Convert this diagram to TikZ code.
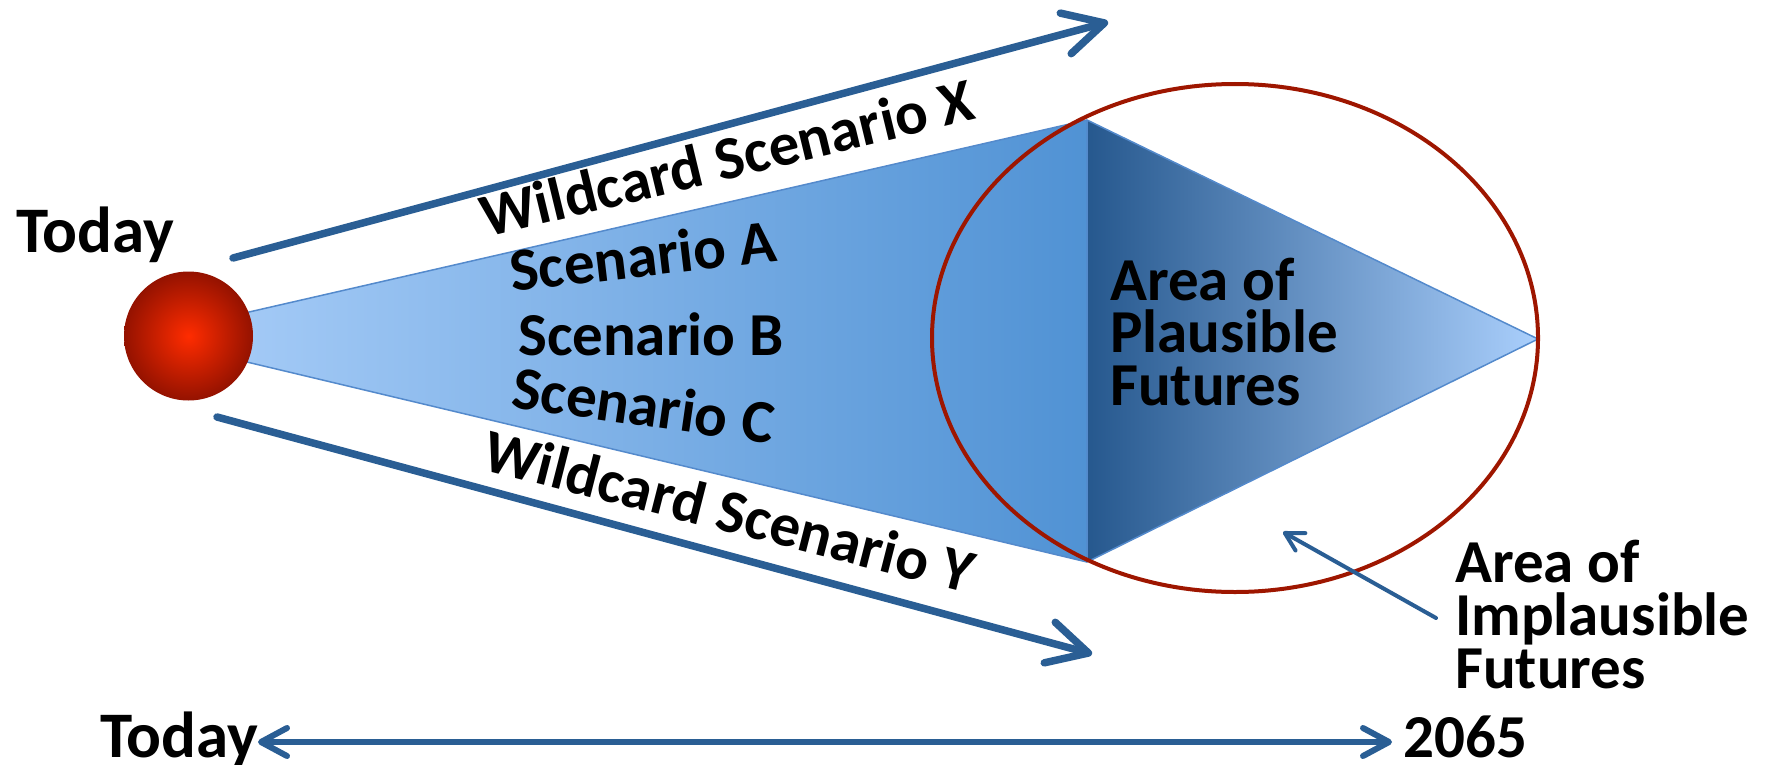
\documentclass[tikz,border=0pt]{standalone}
\usepackage{fontspec}
\setmainfont{Carlito}
\usetikzlibrary{arrows.meta,shapes.geometric}
\definecolor{lineblue}{RGB}{42,94,148}
\definecolor{conel}{RGB}{168,205,248}
\definecolor{coner}{RGB}{80,146,212}
\definecolor{trid}{RGB}{38,88,142}
\definecolor{tril}{RGB}{170,207,252}
\definecolor{edgeblue}{RGB}{84,138,204}
\definecolor{ellred}{RGB}{158,22,0}
\definecolor{ballin}{RGB}{255,44,0}
\definecolor{ballout}{RGB}{148,18,0}
\begin{document}
\begin{tikzpicture}[x=1pt,y=-1pt,
  lbl/.style={font=\fontsize{61}{52}\selectfont\bfseries, inner sep=0pt, anchor=base west},
  bigtext/.style={lbl, font=\fontsize{65}{56}\selectfont\bfseries},
  bigarrow/.style={draw=lineblue, line width=7.5pt, line cap=round,
    -{Straight Barb[length=40pt,width=42pt,round]}},
  smallarrow/.style={draw=lineblue, line width=4pt, line cap=round,
    -{Straight Barb[length=18pt,width=20pt,round]}},
  timearrow/.style={draw=lineblue, line width=6pt,
    {Straight Barb[length=26pt,width=28pt,round]}-{Straight Barb[length=26pt,width=28pt,round]}},
  edgeline/.style={draw=edgeblue, line width=1.5pt, line join=round}
]
\useasboundingbox (0,0) rectangle (1771,765);

% cone and triangle corner points
\coordinate (coneTL) at (188,326);
\coordinate (coneBL) at (188,348);
\coordinate (apexT) at (1087,120);
\coordinate (apexB) at (1087,562);
\coordinate (tip) at (1538,339);

\fill[left color=conel, right color=coner] (coneTL) -- (apexT) -- (apexB) -- (coneBL) -- cycle;
\draw[edgeline] (coneTL) -- (apexT);
\draw[edgeline] (coneBL) -- (apexB);
\fill[left color=trid, right color=tril] (apexT) -- (tip) -- (apexB) -- cycle;
\draw[edgeline] (apexT) -- (tip) -- (apexB) -- cycle;

% ellipse of plausible futures
\node (ell) [draw=ellred, line width=4pt, ellipse, inner sep=0pt,
  minimum width=606pt, minimum height=508pt] at (1235,338) {};

% today ball
\node (ball) [circle, inner sep=0pt, minimum size=129pt, shading=radial,
  inner color=ballin, outer color=ballout] at (188.5,336) {};

% wildcard arrows
\coordinate (wxs) at (233,258);
\coordinate (wxe) at (1108,22);
\coordinate (wys) at (217,417);
\coordinate (wye) at (1092,654);
\draw[bigarrow] (wxs) -- (wxe);
\draw[bigarrow] (wys) -- (wye);

% labels
\node (today) [bigtext] at (16,252) {Today};
\node (wx) [lbl, rotate=13.6] at (486,238) {Wildcard Scenario X};
\node (sa) [lbl, rotate=6.7] at (512,292) {Scenario A};
\node (sb) [lbl] at (518,355) {Scenario B};
\node (sc) [lbl, rotate=-8.1] at (510,407) {Scenario C};
\node (wy) [lbl, rotate=-14.3] at (480,469) {Wildcard Scenario Y};

\node (ap1) [lbl] at (1110,300) {Area of};
\node (ap2) [lbl] at (1110,352.5) {Plausible};
\node (ap3) [lbl] at (1110,405) {Futures};

\node (ai1) [lbl] at (1455,582) {Area of};
\node (ai2) [lbl] at (1455,635) {Implausible};
\node (ai3) [lbl] at (1455,688) {Futures};

% arrow to implausible area
\coordinate (ia) at (1436,618);
\coordinate (ib) at (1283,532);
\draw[smallarrow] (ia) -- (ib);

% time line
\node (tnow) [bigtext] at (100,757) {Today};
\node (tend) [lbl] at (1403,757) {2065};
\coordinate (ta) at (258,742);
\coordinate (tb) at (1392,742);
\draw[timearrow] (ta) -- (tb);
\end{tikzpicture}
\end{document}
